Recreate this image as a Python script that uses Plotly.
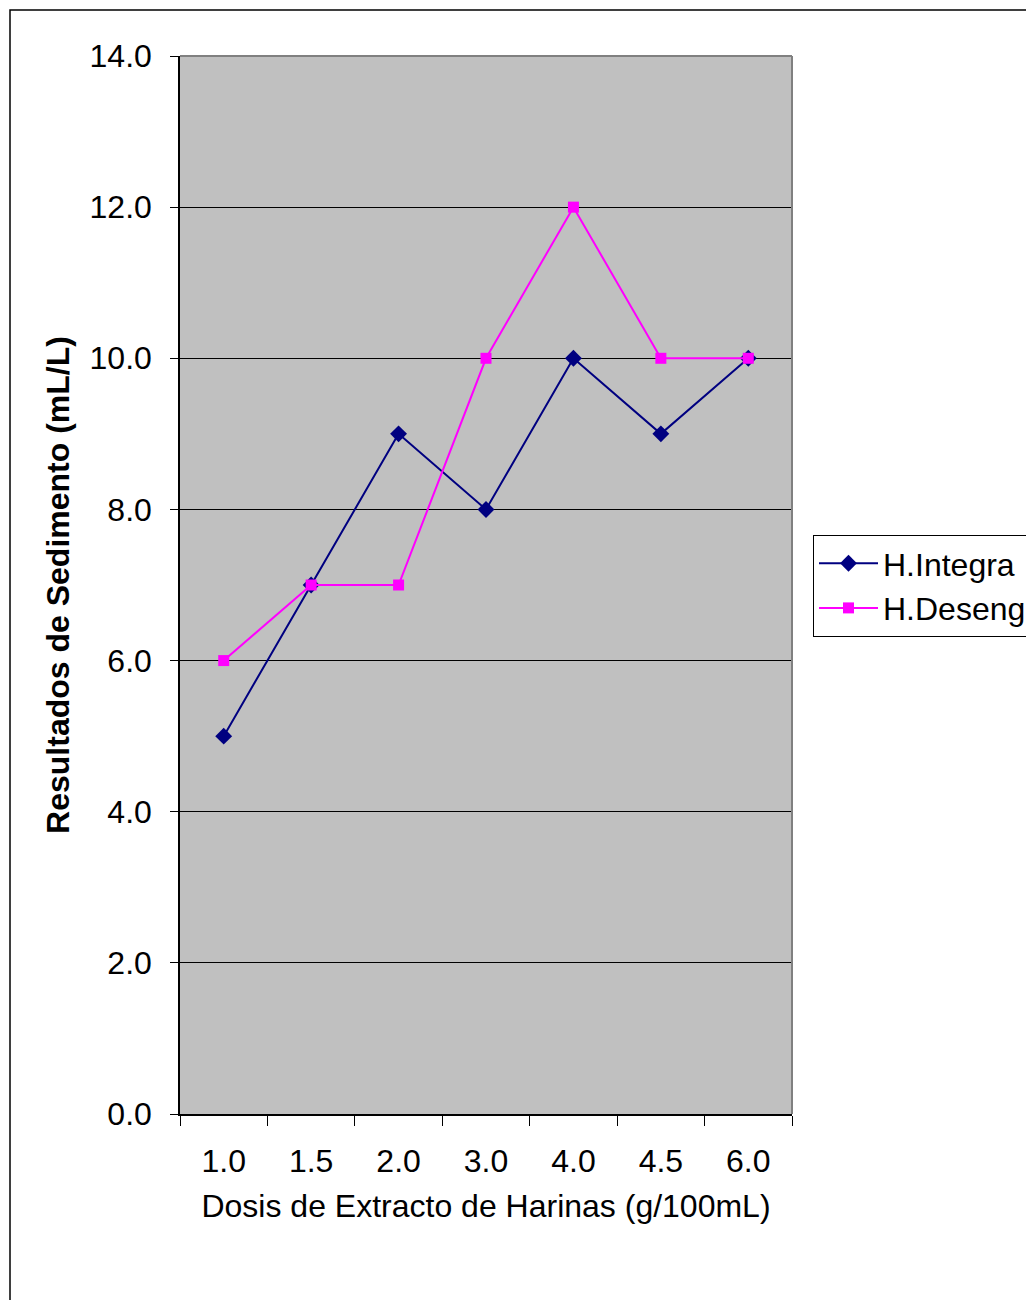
import plotly.graph_objects as go

categories = ["1.0", "1.5", "2.0", "3.0", "4.0", "4.5", "6.0"]
h_integra = [5, 7, 9, 8, 10, 9, 10]
h_deseng = [6, 7, 7, 10, 12, 10, 10]
y_ticks = [0, 2, 4, 6, 8, 10, 12, 14]

# page is offset by the 8px default body margin
OFF = 8
W, H = 1034, 1300
L, R, T, B = 180 - OFF, 792 - OFF, 56 - OFF, 1114 - OFF
pw, ph = R - L, B - T

def px(x):
    return (x - OFF - L) / pw

def py(y):
    return (B - (y - OFF)) / ph

fig = go.Figure()
fig.add_trace(go.Scatter(
    x=categories, y=h_integra, name="H.Integra", mode="lines+markers",
    line=dict(color="#000080", width=2),
    marker=dict(symbol="diamond", size=13, color="#000080"),
))
fig.add_trace(go.Scatter(
    x=categories, y=h_deseng, name="H.Deseng.", mode="lines+markers",
    line=dict(color="#FF00FF", width=2),
    marker=dict(symbol="square", size=11, color="#FF00FF"),
))

font = "Liberation Sans, Arial, sans-serif"
fig.update_layout(
    width=W, height=H,
    margin=dict(l=L, r=W - R, t=T, b=H - B, pad=0, autoexpand=False),
    paper_bgcolor="white", plot_bgcolor="#C0C0C0",
    font=dict(family=font, size=32, color="black"),
    showlegend=True,
    legend=dict(
        x=px(813), y=py(535), xanchor="left", yanchor="top",
        bgcolor="white", bordercolor="black", borderwidth=1,
        font=dict(size=32, family=font), tracegroupgap=0,
        itemwidth=59,
    ),
    xaxis=dict(
        type="category", range=[-0.5, 6.5],
        showgrid=False, zeroline=False,
        showline=True, linecolor="black", linewidth=1.5,
        ticks="outside", ticklen=10, tickcolor="black", tickwidth=1,
        tickson="boundaries",
        ticklabelstandoff=18,
        tickfont=dict(size=32, family=font),
        title=dict(text="Dosis de Extracto de Harinas (g/100mL)",
                   font=dict(size=32, family=font), standoff=16),
    ),
    yaxis=dict(
        range=[0, 14], tickvals=y_ticks,
        ticktext=[f"{v:.1f}" for v in y_ticks],
        showgrid=True, gridcolor="black", gridwidth=1,
        zeroline=False,
        showline=True, linecolor="black", linewidth=1.5,
        ticks="outside", ticklen=8, tickcolor="black", tickwidth=1,
        ticklabelstandoff=12,
        tickfont=dict(size=32, family=font),
        title=dict(text="<b>Resultados de Sedimento (mL/L)</b>",
                   font=dict(size=32, family=font), standoff=10),
    ),
    shapes=[
        dict(type="line", xref="paper", yref="paper", x0=0, x1=1, y0=1, y1=1,
             line=dict(color="#808080", width=2)),
        dict(type="line", xref="paper", yref="paper", x0=1, x1=1, y0=0, y1=1,
             line=dict(color="#808080", width=2)),
        dict(type="rect", xref="paper", yref="paper",
             x0=px(10), x1=px(1060), y0=py(10), y1=py(1320),
             line=dict(color="black", width=1.5), layer="below"),
    ],
)

fig.write_html("out.html")
